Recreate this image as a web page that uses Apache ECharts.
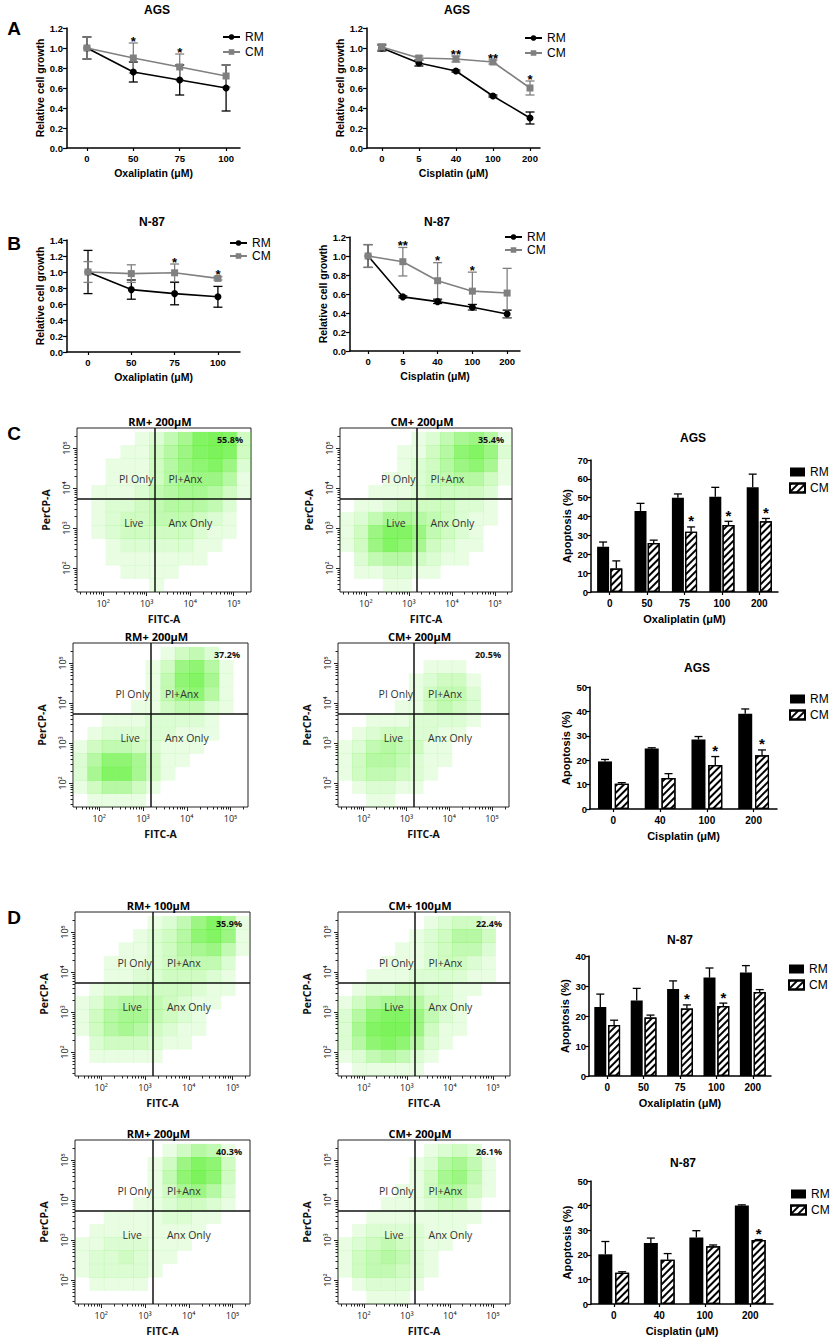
<!DOCTYPE html>
<html><head><meta charset="utf-8">
<script src="https://cdn.jsdelivr.net/npm/echarts@6/dist/echarts.min.js"></script>
<style>html,body{margin:0;padding:0;background:#fff}#c{width:831px;height:1339px}</style>
</head><body><div id="c"></div>
<script>
// ================= DATA =================
// Panel A / B : relative cell growth (mean, SD)
const aOxaCats = ['0','50','75','100'];
const aOxaRM = [1.00,0.76,0.68,0.60];
const aOxaRMErr = [0.11,0.10,0.15,0.23];
const aOxaCM = [1.00,0.90,0.81,0.72];
const aOxaCMErr = [0.11,0.15,0.13,0.11];
const aOxaStars = ['','*','*',''];

const aCisCats = ['0','5','40','100','200'];
const aCisRM = [1.00,0.85,0.77,0.52,0.30];
const aCisRMErr = [0.03,0.03,0.01,0.01,0.06];
const aCisCM = [1.01,0.90,0.89,0.86,0.60];
const aCisCMErr = [0.03,0.02,0.03,0.02,0.07];
const aCisStars = ['','','**','**','*'];

const bOxaCats = ['0','50','75','100'];
const bOxaRM = [1.00,0.78,0.73,0.69];
const bOxaRMErr = [0.27,0.12,0.14,0.13];
const bOxaCM = [1.00,0.98,0.99,0.92];
const bOxaCMErr = [0.13,0.11,0.11,0.02];
const bOxaStars = ['','','*','*'];

const bCisCats = ['0','5','40','100','200'];
const bCisRM = [1.00,0.57,0.52,0.46,0.39];
const bCisRMErr = [0.12,0.01,0.02,0.03,0.04];
const bCisCM = [1.00,0.94,0.74,0.63,0.61];
const bCisCMErr = [0.12,0.15,0.19,0.20,0.26];
const bCisStars = ['','**','*','*',''];

// Panel C / D : apoptosis (%) bars (mean, SD)
const cOxaCats = ['0','50','75','100','200'];
const cOxaRM = [24,43,50,50.5,55.5];
const cOxaRMErr = [2.5,4,2,5,7];
const cOxaCM = [12.5,26,32,35.5,37.5];
const cOxaCMErr = [4,1.5,2.5,2,1.5];
const cOxaStars = ['','','*','*','*'];

const cCisCats = ['0','40','100','200'];
const cCisRM = [19.5,24.8,28.5,39];
const cCisRMErr = [0.8,0.3,1.2,2];
const cCisCM = [10.3,12.7,18,22];
const cCisCMErr = [0.5,1.8,3.5,2.2];
const cCisStars = ['','','*','*'];

const dOxaCats = ['0','50','75','100','200'];
const dOxaRM = [23,25.2,29,32.8,34.5];
const dOxaRMErr = [4.3,4,2.7,3.2,2.3];
const dOxaCM = [17,19.5,22.5,23.3,28];
const dOxaCMErr = [1.6,0.8,1.2,1,0.8];
const dOxaStars = ['','','*','*',''];

const dCisCats = ['0','40','100','200'];
const dCisRM = [20.2,24.8,27,40];
const dCisRMErr = [5.2,2,2.8,0.3];
const dCisCM = [12.7,18,23.5,26];
const dCisCMErr = [0.4,2.5,0.5,0.2];
const dCisStars = ['','','','*'];

// Flow cytometry: log10 axes, gate positions, estimated event density per bin (rows top -> bottom)
const flowTickValues = [2,3,4,5];
const flowTickLabels = ['10\u00b2','10\u00b3','10\u2074','10\u2075'];
const flowBinX = [1.57,1.9,2.23,2.57,2.9,3.23,3.57,3.9,4.23,4.57,4.9,5.23];
const flowBinY = [1.57,1.9,2.23,2.57,2.9,3.23,3.57,3.9,4.23,4.57,4.9,5.23];
const flowGateX = 3.18;
const flowGateY = 3.72;
const flowQuadLabels = ['PI Only','PI+Anx','Live','Anx Only'];
const flowTitles = ['RM+ 200\u03bcM','CM+ 200\u03bcM','RM+ 200\u03bcM','CM+ 200\u03bcM','RM+ 100\u03bcM','CM+ 100\u03bcM','RM+ 200\u03bcM','CM+ 200\u03bcM'];
const flowPercents = ['55.8%','35.4%','37.2%','20.5%','35.9%','22.4%','40.3%','26.1%'];

const flowC1 = [
 [0,0,0,0,1,2,4,6,9,10,9,3],
 [0,0,0,1,1,3,5,7,9,10,9,3],
 [0,0,1,1,1,3,5,7,8,9,7,2],
 [0,0,1,1,1,3,5,6,7,7,5,1],
 [0,1,1,1,2,4,5,6,6,5,3,1],
 [0,1,2,2,3,4,5,5,5,4,2,0],
 [0,1,2,3,3,4,4,4,3,2,1,0],
 [0,1,2,3,3,3,3,3,2,1,1,0],
 [0,0,1,2,2,2,2,2,1,1,0,0],
 [0,0,1,1,1,1,1,1,1,0,0,0],
 [0,0,0,1,1,1,1,0,0,0,0,0],
 [0,0,0,0,0,1,0,0,0,0,0,0]];
const flowC2 = [
 [0,0,0,0,0,1,2,4,6,7,5,1],
 [0,0,0,0,1,1,3,5,8,9,7,2],
 [0,0,0,0,1,2,3,5,7,8,6,1],
 [0,0,0,1,1,2,3,4,5,5,3,1],
 [0,0,1,1,1,2,3,3,3,3,2,0],
 [0,1,1,2,3,3,3,3,2,2,1,0],
 [1,2,4,6,6,5,4,3,2,1,1,0],
 [1,3,7,9,9,7,4,3,2,1,0,0],
 [1,3,7,9,8,6,3,2,1,1,0,0],
 [0,2,4,5,5,3,2,1,1,0,0,0],
 [0,1,1,2,2,1,1,0,0,0,0,0],
 [0,0,0,1,1,0,0,0,0,0,0,0]];
const flowC3 = [
 [0,0,0,0,0,0,1,3,4,2,0,0],
 [0,0,0,0,0,1,3,7,8,5,1,0],
 [0,0,0,0,0,1,4,8,9,6,1,0],
 [0,0,0,0,0,1,4,7,8,5,1,0],
 [0,0,0,0,1,1,3,4,4,2,1,0],
 [0,0,1,1,1,2,2,2,2,1,0,0],
 [0,1,2,2,2,2,2,1,1,1,0,0],
 [1,3,4,4,3,2,1,1,1,0,0,0],
 [2,5,8,8,6,3,1,1,0,0,0,0],
 [2,6,9,9,6,3,1,0,0,0,0,0],
 [1,3,5,5,3,1,0,0,0,0,0,0],
 [0,1,1,1,1,0,0,0,0,0,0,0]];
const flowC4 = [
 [0,0,0,0,0,0,0,0,0,0,0,0],
 [0,0,0,0,0,0,1,1,1,0,0,0],
 [0,0,0,0,0,1,2,3,3,1,0,0],
 [0,0,0,0,0,1,3,4,4,2,0,0],
 [0,0,0,0,1,1,3,4,3,2,0,0],
 [0,0,1,1,1,2,2,2,2,1,0,0],
 [0,1,2,3,3,2,2,1,1,0,0,0],
 [1,2,4,5,4,3,1,1,0,0,0,0],
 [1,3,5,5,4,2,1,1,0,0,0,0],
 [1,3,4,4,3,2,1,0,0,0,0,0],
 [0,1,2,2,1,1,0,0,0,0,0,0],
 [0,0,1,1,0,0,0,0,0,0,0,0]];
const flowD1 = [
 [0,0,0,0,0,1,2,4,7,9,6,1],
 [0,0,0,0,1,2,3,5,8,9,7,1],
 [0,0,0,1,1,2,3,5,6,7,4,1],
 [0,0,1,1,1,2,3,4,4,4,2,0],
 [0,0,1,1,2,2,3,3,3,2,1,0],
 [0,1,2,2,3,3,3,3,2,1,1,0],
 [1,2,4,5,5,4,3,2,1,1,0,0],
 [1,3,5,6,6,4,3,2,1,0,0,0],
 [1,3,5,6,5,3,2,1,1,0,0,0],
 [0,2,3,3,3,2,1,1,0,0,0,0],
 [0,1,1,1,1,1,0,0,0,0,0,0],
 [0,0,0,0,0,0,0,0,0,0,0,0]];
const flowD2 = [
 [0,0,0,0,0,0,1,2,3,3,1,0],
 [0,0,0,0,0,1,2,3,5,5,3,0],
 [0,0,0,0,1,1,2,3,4,4,2,0],
 [0,0,0,1,1,1,2,3,3,2,1,0],
 [0,0,1,1,1,2,2,2,2,1,1,0],
 [0,1,2,2,3,3,2,2,1,1,0,0],
 [1,3,5,6,6,5,3,2,1,0,0,0],
 [2,5,8,9,9,7,4,2,1,0,0,0],
 [2,6,9,10,10,7,3,1,1,0,0,0],
 [2,5,8,9,8,5,2,1,0,0,0,0],
 [1,2,4,5,4,2,1,0,0,0,0,0],
 [0,1,1,1,1,1,0,0,0,0,0,0]];
const flowD3 = [
 [0,0,0,0,0,0,1,3,5,4,1,0],
 [0,0,0,0,0,1,3,7,9,8,3,0],
 [0,0,0,0,0,1,4,8,10,8,3,0],
 [0,0,0,0,0,1,3,6,7,5,2,0],
 [0,0,0,0,1,1,2,3,3,2,1,0],
 [0,0,1,1,1,1,2,2,1,1,0,0],
 [0,1,1,1,1,1,1,1,1,0,0,0],
 [1,1,2,2,2,1,1,1,0,0,0,0],
 [1,2,2,3,2,1,1,0,0,0,0,0],
 [1,2,2,2,2,1,0,0,0,0,0,0],
 [0,1,1,1,1,0,0,0,0,0,0,0],
 [0,0,0,0,0,0,0,0,0,0,0,0]];
const flowD4 = [
 [0,0,0,0,0,0,1,2,3,2,0,0],
 [0,0,0,0,0,1,2,5,6,4,1,0],
 [0,0,0,0,0,1,3,6,7,4,1,0],
 [0,0,0,0,1,1,3,5,5,3,1,0],
 [0,0,0,1,1,1,2,3,3,1,0,0],
 [0,0,1,1,1,1,1,1,1,1,0,0],
 [0,1,2,2,2,2,1,1,1,0,0,0],
 [1,2,3,4,3,2,1,1,0,0,0,0],
 [1,3,4,5,4,2,1,0,0,0,0,0],
 [1,3,4,4,3,2,1,0,0,0,0,0],
 [0,1,2,2,2,1,0,0,0,0,0,0],
 [0,0,1,1,1,0,0,0,0,0,0,0]];

// ================= BUILD =================
const FONT = "'Liberation Sans', Arial, sans-serif";
const FFONT = "'Open Sans', 'Liberation Sans', sans-serif";
const grids=[], xAxes=[], yAxes=[], series=[], legends=[], graphics=[];

function txt(x,y,text,font,align,fill){
  graphics.push({type:'text', x:x, y:y, silent:true, z:50,
    style:{text:text, font:font, fill:fill||'#000', align:align||'center', verticalAlign:'middle',
           textAlign:align||'center', textVerticalAlign:'middle'}});
}
function axName(size){ return {fontFamily:FONT, fontWeight:'bold', fontSize:size, color:'#000'}; }

function errSeries(gi, xs, means, errs, color, cap, both, off, z){
  return {type:'custom', xAxisIndex:gi, yAxisIndex:gi, silent:true, z:z, animation:false,
    data: means.map((m,i)=>[xs[i], m, errs[i]]),
    renderItem:function(p, api){
      const x=api.value(0), m=api.value(1), e=api.value(2);
      const t=api.coord([x,m+e]), b=api.coord([x, both ? m-e : m]);
      const cx=t[0]+off, h=cap/2, st={stroke:color, lineWidth:1.3};
      const ch=[{type:'line',shape:{x1:cx,y1:t[1],x2:cx,y2:b[1]},style:st},
                {type:'line',shape:{x1:cx-h,y1:t[1],x2:cx+h,y2:t[1]},style:st}];
      if(both) ch.push({type:'line',shape:{x1:cx-h,y1:b[1],x2:cx+h,y2:b[1]},style:st});
      return {type:'group', children:ch};
    }};
}
function starSeries(gi, stars, tops, off, size, lift){
  const d=[]; stars.forEach((s,i)=>{ if(s) d.push([i, tops[i], i]); });
  return {type:'custom', xAxisIndex:gi, yAxisIndex:gi, silent:true, z:10, animation:false, data:d,
    renderItem:function(p, api){
      const c=api.coord([api.value(0), api.value(1)]);
      return {type:'text', x:c[0]+off, y:c[1]-lift,
        style:{text:stars[api.value(2)], font:'bold '+size+'px '+FONT, fill:'#000',
               align:'center', verticalAlign:'middle', textAlign:'center', textVerticalAlign:'middle'}};
    }};
}

function lineChart(c){
  const gi=grids.length; const idx=c.cats.map((_,i)=>i);
  grids.push({left:c.left, top:c.top, width:c.width, height:c.height});
  xAxes.push({gridIndex:gi, type:'value', min:c.xmin, max:c.xmax, splitLine:{show:false},
    axisLine:{show:true,onZero:false,lineStyle:{color:'#000',width:1.5}},
    axisTick:{show:true,customValues:idx,length:3,lineStyle:{color:'#000',width:1.2}},
    axisLabel:{customValues:idx, formatter:v=>c.cats[Math.round(v)], color:'#000', fontFamily:FONT, fontWeight:'bold', fontSize:9.5, margin:5},
    name:c.xname, nameLocation:'middle', nameGap:19, nameTextStyle:axName(10.5)});
  yAxes.push({gridIndex:gi, type:'value', min:0, max:c.ymax, interval:0.2, splitLine:{show:false},
    axisLine:{show:true,onZero:false,lineStyle:{color:'#000',width:1.5}},
    axisTick:{show:true,length:4,lineStyle:{color:'#000',width:1.2}},
    axisLabel:{formatter:v=>v.toFixed(1), color:'#000', fontFamily:FONT, fontWeight:'bold', fontSize:9.5, margin:4},
    name:'Relative cell growth', nameLocation:'middle', nameGap:21, nameTextStyle:axName(10.5)});
  series.push(errSeries(gi, idx, c.rm, c.rmErr, '#000', 9, true, 0, 2));
  series.push(errSeries(gi, idx, c.cm, c.cmErr, '#808080', 9, true, 0, 2));
  series.push({type:'line', name:'RM|'+c.id, xAxisIndex:gi, yAxisIndex:gi, data:idx.map(i=>[i,c.rm[i]]),
    symbol:'circle', symbolSize:7, itemStyle:{color:'#000'}, lineStyle:{color:'#000',width:1.6}, z:3, animation:false});
  series.push({type:'line', name:'CM|'+c.id, xAxisIndex:gi, yAxisIndex:gi, data:idx.map(i=>[i,c.cm[i]]),
    symbol:'rect', symbolSize:7, itemStyle:{color:'#808080'}, lineStyle:{color:'#808080',width:1.6}, z:4, animation:false});
  const tops=idx.map(i=>Math.max(c.rm[i]+c.rmErr[i], c.cm[i]+c.cmErr[i]));
  series.push(starSeries(gi, c.stars, tops, 0, 13, 2));
  legends.push({left:c.legLeft, top:c.legTop, orient:'vertical', itemGap:c.legGap, itemWidth:17, itemHeight:7,
    selectedMode:false, data:['RM|'+c.id,'CM|'+c.id], formatter:n=>n.split('|')[0],
    textStyle:{fontFamily:FONT, fontSize:12, color:'#000'}});
  txt(c.titleX, c.titleY, c.title, 'bold 12px '+FONT);
}

function barChart(c){
  const gi=grids.length; const idx=c.cats.map((_,i)=>i);
  grids.push({left:c.left, top:c.top, width:c.width, height:c.height});
  xAxes.push({gridIndex:gi, type:'category', data:c.cats, boundaryGap:true,
    axisLine:{show:true,lineStyle:{color:'#000',width:1.5}},
    axisTick:{show:true,alignWithLabel:true,length:3,lineStyle:{color:'#000',width:1.2}},
    axisLabel:{color:'#000', fontFamily:FONT, fontWeight:'bold', fontSize:10, margin:6},
    name:c.xname, nameLocation:'middle', nameGap:21, nameTextStyle:axName(11)});
  yAxes.push({gridIndex:gi, type:'value', min:0, max:c.ymax, interval:10, splitLine:{show:false},
    axisLine:{show:true,onZero:false,lineStyle:{color:'#000',width:1.5}},
    axisTick:{show:true,length:4,lineStyle:{color:'#000',width:1.2}},
    axisLabel:{color:'#000', fontFamily:FONT, fontWeight:'bold', fontSize:9.5, margin:3},
    name:'Apoptosis (%)', nameLocation:'middle', nameGap:19, nameTextStyle:axName(11)});
  const gapPct=c.gap*100+'%';
  series.push({type:'bar', name:'RM|'+c.id, xAxisIndex:gi, yAxisIndex:gi, data:c.rm, barWidth:c.bw, barGap:gapPct,
    itemStyle:{color:'#000'}, z:2, animation:false});
  series.push({type:'bar', name:'CM|'+c.id, xAxisIndex:gi, yAxisIndex:gi, data:c.cm, barWidth:c.bw, barGap:gapPct,
    itemStyle:{color:'#fff', borderColor:'#000', borderWidth:1.2,
      decal:{symbol:'rect', symbolSize:1, color:'#000', dashArrayX:[1,0], dashArrayY:[1.6,2.6], rotation:-Math.PI/4}},
    z:2, animation:false});
  const off=(c.bw + c.gap*c.bw)/2;
  series.push(errSeries(gi, idx, c.rm, c.rmErr, '#000', 8, false, -off, 1));
  series.push(errSeries(gi, idx, c.cm, c.cmErr, '#000', 8, false, off, 1));
  const tops=idx.map(i=>c.cm[i]+c.cmErr[i]);
  series.push(starSeries(gi, c.stars, tops, off, 15, 6));
  legends.push({left:c.legLeft, top:c.legTop, orient:'vertical', itemGap:4, itemWidth:15, itemHeight:9, icon:'rect',
    selectedMode:false, data:['RM|'+c.id,'CM|'+c.id], formatter:n=>n.split('|')[0],
    textStyle:{fontFamily:FONT, fontSize:12, color:'#000'}});
  txt(c.titleX, c.titleY, c.title, 'bold 12px '+FONT);
}

const minorVals=[];
[1,2,3,4,5].forEach(n=>{[2,3,4,5,6,7,8,9].forEach(k=>{const v=n+Math.log10(k); if(v>1.4&&v<5.4) minorVals.push(+v.toFixed(4));});});

function flowPlot(c){
  const gi=grids.length;
  const xmin=1.4, xmax=5.4, ymin=1.4, ymax=5.5;
  grids.push({left:c.left, top:c.top, width:c.width, height:c.height, show:true, borderColor:'#222', borderWidth:1, backgroundColor:'rgba(0,0,0,0)'});
  const xi=xAxes.length, yi=yAxes.length;
  xAxes.push({gridIndex:gi, type:'value', position:'bottom', min:xmin, max:xmax, splitLine:{show:false}, axisLine:{show:false},
    axisTick:{show:true, customValues:flowTickValues, length:4, lineStyle:{color:'#222',width:1}},
    axisLabel:{customValues:flowTickValues, formatter:v=>flowTickLabels[flowTickValues.indexOf(Math.round(v))], color:'#222', fontFamily:FFONT, fontSize:9, margin:7},
    name:'FITC-A', nameLocation:'middle', nameGap:21, nameTextStyle:{fontFamily:FFONT, fontWeight:'bold', fontSize:10.5, color:'#111'}});
  xAxes.push({gridIndex:gi, type:'value', position:'bottom', min:xmin, max:xmax, splitLine:{show:false}, axisLine:{show:false},
    axisTick:{show:true, customValues:minorVals, length:2.5, lineStyle:{color:'#222',width:1}}, axisLabel:{show:false}});
  yAxes.push({gridIndex:gi, type:'value', position:'left', min:ymin, max:ymax, splitLine:{show:false}, axisLine:{show:false},
    axisTick:{show:true, customValues:flowTickValues, length:4, lineStyle:{color:'#222',width:1}},
    axisLabel:{customValues:flowTickValues, formatter:v=>flowTickLabels[flowTickValues.indexOf(Math.round(v))], color:'#222', fontFamily:FFONT, fontSize:9, margin:6, rotate:90},
    name:'PerCP-A', nameLocation:'middle', nameGap:26, nameTextStyle:{fontFamily:FFONT, fontWeight:'bold', fontSize:10.5, color:'#111'}});
  yAxes.push({gridIndex:gi, type:'value', position:'left', min:ymin, max:ymax, splitLine:{show:false}, axisLine:{show:false},
    axisTick:{show:true, customValues:minorVals, length:2.5, lineStyle:{color:'#222',width:1}}, axisLabel:{show:false}});
  const binW=flowBinX[1]-flowBinX[0];
  const cw=c.width*binW/(xmax-xmin)+0.6, ch=c.height*binW/(ymax-ymin)+0.6;
  const data=[];
  c.grid.forEach((row,r)=>row.forEach((v,k)=>{ if(v>0) data.push([flowBinX[k], flowBinY[row.length-1-r], v]); }));
  series.push({type:'scatter', xAxisIndex:xi, yAxisIndex:yi, data:data, symbol:'rect', symbolSize:[cw,ch], silent:true, z:1, animation:false,
    itemStyle:{color:p=>'rgba(88,240,44,'+Math.min(0.97,0.07+p.value[2]*0.095).toFixed(3)+')'},
    markLine:{silent:true, symbol:['none','none'], label:{show:false}, animation:false,
      lineStyle:{color:'#111', width:1.5, type:'solid'}, data:[{xAxis:flowGateX},{yAxis:flowGateY}]}});
  series.push({type:'custom', xAxisIndex:xi, yAxisIndex:yi, silent:true, z:5, animation:false, data:[[flowGateX, flowGateY]],
    renderItem:function(p, api){
      const g=api.coord([api.value(0), api.value(1)]);
      const f='10.5px '+FFONT;
      const mk=(x,y,t,al)=>({type:'text', x:x, y:y, style:{text:t, font:f, fill:'#333', align:al, verticalAlign:'middle', textAlign:al, textVerticalAlign:'middle'}});
      return {type:'group', children:[
        mk(g[0]-1, g[1]-20, flowQuadLabels[0], 'right'),
        mk(g[0]+14, g[1]-20, flowQuadLabels[1], 'left'),
        mk(g[0]-11, g[1]+24, flowQuadLabels[2], 'right'),
        mk(g[0]+14, g[1]+24, flowQuadLabels[3], 'left')]};
    }});
  txt(c.left+c.width/2-4, c.top-7, flowTitles[c.i], 'bold 11px '+FFONT);
  txt(c.left+c.width-8, c.top+11, flowPercents[c.i], 'bold 9px '+FFONT, 'right', '#111');
}

// ---- Panel A, B ----
lineChart({id:'a1', cats:aOxaCats, rm:aOxaRM, rmErr:aOxaRMErr, cm:aOxaCM, cmErr:aOxaCMErr, stars:aOxaStars,
  left:67, top:28, width:173, height:120, xmin:-0.43, xmax:3.3, ymax:1.2, xname:'Oxaliplatin (\u03bcM)',
  title:'AGS', titleX:157, titleY:10, legLeft:217, legTop:26, legGap:3});
lineChart({id:'a2', cats:aCisCats, rm:aCisRM, rmErr:aCisRMErr, cm:aCisCM, cmErr:aCisCMErr, stars:aCisStars,
  left:367, top:28, width:173, height:120, xmin:-0.4, xmax:4.27, ymax:1.2, xname:'Cisplatin (\u03bcM)',
  title:'AGS', titleX:457, titleY:10, legLeft:519, legTop:27, legGap:3});
lineChart({id:'b1', cats:bOxaCats, rm:bOxaRM, rmErr:bOxaRMErr, cm:bOxaCM, cmErr:bOxaCMErr, stars:bOxaStars,
  left:67, top:240, width:173, height:112, xmin:-0.485, xmax:3.51, ymax:1.4, xname:'Oxaliplatin (\u03bcM)',
  title:'N-87', titleX:152, titleY:222, legLeft:224, legTop:232, legGap:1});
lineChart({id:'b2', cats:bCisCats, rm:bCisRM, rmErr:bCisRMErr, cm:bCisCM, cmErr:bCisCMErr, stars:bCisStars,
  left:350, top:237, width:170, height:114, xmin:-0.52, xmax:4.37, ymax:1.2, xname:'Cisplatin (\u03bcM)',
  title:'N-87', titleX:437, titleY:222, legLeft:499, legTop:226, legGap:1});

// ---- Bars ----
barChart({id:'c1', cats:cOxaCats, rm:cOxaRM, rmErr:cOxaRMErr, cm:cOxaCM, cmErr:cOxaCMErr, stars:cOxaStars,
  left:591, top:460, width:187, height:132, ymax:70, bw:12, gap:0.1, xname:'Oxaliplatin (\u03bcM)',
  title:'AGS', titleX:693, titleY:438, legLeft:784, legTop:461});
barChart({id:'c2', cats:cCisCats, rm:cCisRM, rmErr:cCisRMErr, cm:cCisCM, cmErr:cCisCMErr, stars:cCisStars,
  left:590, top:687, width:187, height:122, ymax:50, bw:14, gap:0.2, xname:'Cisplatin (\u03bcM)',
  title:'AGS', titleX:697, titleY:668, legLeft:784, legTop:688});
barChart({id:'d1', cats:dOxaCats, rm:dOxaRM, rmErr:dOxaRMErr, cm:dOxaCM, cmErr:dOxaCMErr, stars:dOxaStars,
  left:589, top:956, width:182, height:120, ymax:40, bw:12, gap:0.15, xname:'Oxaliplatin (\u03bcM)',
  title:'N-87', titleX:680, titleY:940, legLeft:783, legTop:958});
barChart({id:'d2', cats:dCisCats, rm:dCisRM, rmErr:dCisRMErr, cm:dCisCM, cmErr:dCisCMErr, stars:dCisStars,
  left:591, top:1181, width:182, height:123, ymax:50, bw:14, gap:0.2, xname:'Cisplatin (\u03bcM)',
  title:'N-87', titleX:683, titleY:1163, legLeft:785, legTop:1183});

// ---- Flow plots ----
flowPlot({i:0, grid:flowC1, left:77, top:428, width:174, height:164});
flowPlot({i:1, grid:flowC2, left:340, top:428, width:172, height:164});
flowPlot({i:2, grid:flowC3, left:73, top:643, width:175, height:164});
flowPlot({i:3, grid:flowC4, left:338, top:643, width:171, height:164});
flowPlot({i:4, grid:flowD1, left:75, top:912, width:175, height:164});
flowPlot({i:5, grid:flowD2, left:338, top:912, width:172, height:164});
flowPlot({i:6, grid:flowD3, left:75, top:1140, width:175, height:164});
flowPlot({i:7, grid:flowD4, left:338, top:1140, width:172, height:164});

// panel letters
txt(14, 28, 'A', 'bold 19px '+FONT);
txt(14, 243, 'B', 'bold 19px '+FONT);
txt(14, 433, 'C', 'bold 19px '+FONT);
txt(14, 917, 'D', 'bold 19px '+FONT);

const chart = echarts.init(document.getElementById('c'), null, {renderer:'svg', width:831, height:1339});
chart.setOption({animation:false, backgroundColor:'#fff', grid:grids, xAxis:xAxes, yAxis:yAxes,
  legend:legends, series:series, graphic:{elements:graphics}});
</script></body></html>
